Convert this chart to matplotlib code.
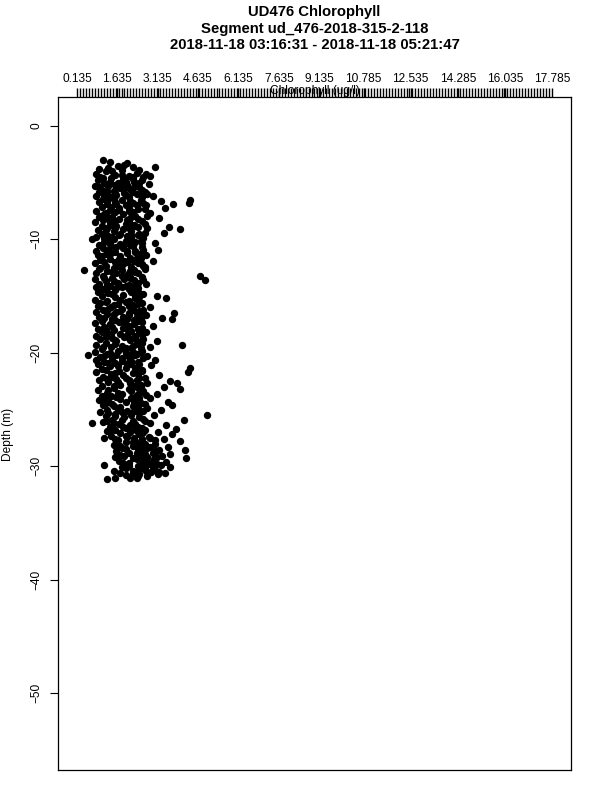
import numpy as np
import matplotlib
matplotlib.use("Agg")
import matplotlib.pyplot as plt

plt.rcParams['font.family'] = ['Liberation Sans', 'DejaVu Sans']

title_lines = ["UD476 Chlorophyll",
               "Segment ud_476-2018-315-2-118",
               "2018-11-18 03:16:31 - 2018-11-18 05:21:47"]
x_label = "Chlorophyll (ug/l)"
y_label = "Depth (m)"
x_tick_labels = ["0.135", "1.635", "3.135", "4.635", "6.135", "7.635", "9.135",
                 "10.785", "12.535", "14.285", "16.035", "17.785"]
y_ticks = [0, -10, -20, -30, -40, -50]
x_range = (0.135, 17.785)
y_view = (-56.79, 2.56)

# (depth m, chlorophyll ug/l)
seg_a = [(3.0,1.10),(3.2,1.35),(3.3,2.00),(3.6,3.05),(3.5,1.65),(3.8,0.95),(3.9,1.80),(4.0,1.20),(4.1,2.35),(4.2,0.85),
         (4.3,1.55),(4.4,2.05),(4.5,1.00),(4.5,2.60),(4.6,1.40),(4.7,1.85),(4.8,0.90),(4.9,2.25),(5.0,1.15),(5.0,1.65),
         (5.1,2.80),(5.2,2.00),(5.3,1.30),(5.3,0.80),(5.4,2.45),(5.5,1.75),(5.6,1.05),(5.6,2.15),(5.7,1.50),(5.8,0.95),
         (5.8,2.65),(5.9,1.90),(6.0,1.25),(6.0,2.35),(6.1,1.60),(6.2,0.85),(6.2,2.95),(6.3,2.05),(6.3,1.40),(6.4,1.10),
         (6.5,1.80),(6.5,2.50),(6.5,4.35),(6.6,3.25),(6.7,0.95),(6.7,1.55),(6.8,2.20),(6.8,4.30),(6.9,1.25),(6.9,3.70),
         (7.0,1.95),(7.0,2.70),(7.1,1.05),(7.2,1.70),(7.2,3.40)]
seg_a2 = [(4.0,1.45),(4.6,1.10),(4.9,1.35),(5.2,1.55),(5.4,0.95),(5.7,1.25),(5.9,1.55),(6.1,1.95),(6.4,1.50),(6.6,1.25),
          (6.9,1.60),(7.1,1.40),(4.3,1.80),(5.5,2.05),(6.2,1.15),(5.1,1.90),(3.7,1.30),(4.7,2.20)]
seg_a3 = [(3.4,1.90),(3.9,2.45),(4.2,2.70),(4.5,2.20),(4.8,2.55),(5.0,2.45),(5.3,2.30),(5.6,2.55),(5.8,2.20),(6.0,2.75),
          (6.3,2.55),(6.6,2.10),(6.8,2.60),(7.0,2.35),(4.4,2.85),(5.4,1.95),(6.1,2.55),(7.2,2.05),(3.6,2.20),(4.9,1.95)]
seg_b = [(7.3,2.40),(7.4,1.35),(7.5,0.85),(7.5,2.05),(7.6,1.55),(7.7,2.85),(7.8,1.15),(7.8,1.85),(7.9,2.30),(8.0,0.95),
         (8.0,1.45),(8.1,3.20),(8.2,2.05),(8.2,1.70),(8.3,1.10),(8.4,2.55),(8.5,0.80),(8.5,1.35),(8.6,1.95),(8.7,2.25),
         (8.8,1.05),(8.8,1.60),(8.9,3.55),(9.0,2.75),(9.0,1.25),(9.1,3.95),(9.1,1.85),(9.2,0.90),(9.3,2.15),(9.3,1.50),
         (9.4,3.35),(9.5,1.05),(9.5,2.45),(9.6,1.70),(9.7,1.30),(9.7,2.00),(9.8,0.85),(9.9,2.60),(10.0,1.50),(10.0,0.70),
         (10.1,1.95),(10.2,1.15),(10.2,2.30),(10.3,3.05),(10.4,1.75),(10.5,0.95),(10.5,2.10),(10.6,1.40),(10.7,2.55),(10.8,1.10),
         (10.8,1.85),(10.9,3.15),(11.0,0.85),(11.0,2.30)]
seg_b2 = [(7.4,1.70),(7.7,1.20),(8.1,1.30),(8.4,1.55),(8.7,1.35),(9.0,1.55),(9.2,1.20),(9.5,1.75),(9.8,1.45),(10.1,1.25),
          (10.4,1.35),(10.7,1.60),(10.9,1.30),(8.3,2.00),(9.6,2.15),(10.3,1.95),(7.9,1.00),(9.9,1.15)]
seg_b3 = [(7.3,2.65),(7.6,2.20),(7.9,2.75),(8.2,2.40),(8.5,2.05),(8.6,2.65),(8.9,2.40),(9.1,2.10),(9.4,2.65),(9.6,2.40),
          (9.9,2.15),(10.1,2.50),(10.3,2.55),(10.6,2.20),(10.9,2.60),(8.0,2.15),(8.8,2.30),(9.8,2.05),(10.6,1.85),(11.0,2.00)]
seg_c = [(11.1,1.55),(11.2,2.00),(11.3,1.20),(11.4,2.70),(11.4,0.90),(11.5,1.75),(11.6,2.35),(11.7,1.35),(11.8,1.00),(11.8,2.05),
         (11.9,2.95),(12.0,1.55),(12.1,0.80),(12.1,2.40),(12.2,1.85),(12.3,1.20),(12.4,2.15),(12.5,1.50),(12.6,0.95),(12.6,2.65),
         (12.7,0.40),(12.7,1.80),(12.8,1.25),(12.9,2.30),(13.0,0.85),(13.0,1.60),(13.1,2.00),(13.2,4.70),(13.2,1.10),(13.3,2.55),
         (13.4,1.45),(13.5,0.80),(13.5,1.90),(13.6,4.90),(13.6,2.25),(13.7,1.20),(13.8,1.65),(13.9,0.95),(13.9,2.70),(14.0,2.05),
         (14.1,1.35),(14.2,0.85),(14.2,1.80),(14.3,2.40),(14.4,1.10),(14.5,1.55),(14.6,2.15),(14.6,0.90),(14.7,1.30),(14.8,2.60),
         (14.9,1.85),(15.0,1.05),(15.0,3.10)]
seg_c2 = [(11.2,1.40),(11.5,1.05),(11.7,1.70),(12.0,1.15),(12.3,1.65),(12.5,1.00),(12.9,1.45),(13.2,1.80),(13.4,1.15),(13.7,1.50),
          (14.0,1.25),(14.3,1.60),(14.5,1.20),(14.8,1.45),(11.9,1.90),(13.0,2.05),(14.1,1.95),(12.8,2.10)]
seg_c3 = [(11.1,2.30),(11.3,2.45),(11.6,2.10),(11.9,2.25),(12.2,2.55),(12.4,2.65),(12.7,2.25),(13.0,2.40),(13.3,2.10),(13.6,2.60),
          (13.8,2.40),(14.1,2.25),(14.4,2.05),(14.7,2.45),(14.9,2.30),(11.6,2.50),(12.3,2.60),(13.4,2.10),(14.5,2.35),(12.0,2.00)]
seg_d = [(15.1,1.55),(15.2,2.30),(15.2,3.45),(15.3,0.80),(15.4,1.25),(15.5,1.95),(15.6,2.55),(15.6,1.00),(15.7,1.65),(15.8,2.20),
         (15.9,0.90),(16.0,1.40),(16.0,2.85),(16.1,1.80),(16.2,1.10),(16.3,2.45),(16.4,0.85),(16.4,1.60),(16.5,3.75),(16.5,2.05),
         (16.6,1.25),(16.7,2.70),(16.8,0.95),(16.8,1.85),(16.9,3.30),(17.0,1.45),(17.0,3.65),(17.1,2.25),(17.2,1.05),(17.3,1.70),
         (17.3,2.55),(17.4,0.80),(17.5,1.35),(17.6,2.05),(17.6,2.95),(17.7,1.15),(17.8,1.85),(17.9,0.90),(17.9,2.40),(18.0,1.50),
         (18.1,2.15),(18.2,1.05),(18.2,2.70),(18.3,1.75),(18.4,1.30),(18.5,0.85),(18.5,2.30),(18.6,1.90),(18.7,1.45),(18.8,2.60),
         (18.8,1.00),(18.9,2.10),(19.0,1.60),(19.0,3.10)]
seg_d2 = [(15.3,1.75),(15.5,1.20),(15.8,1.50),(16.1,1.30),(16.3,1.75),(16.6,1.50),(16.9,1.15),(17.1,1.55),(17.4,1.90),(17.7,1.45),
          (18.0,1.20),(18.3,1.40),(18.6,1.20),(18.9,1.55),(15.9,2.05),(17.0,2.00),(18.4,2.00),(16.2,2.20)]
seg_d3 = [(15.1,2.45),(15.4,2.05),(15.7,2.40),(16.0,2.20),(16.2,2.60),(16.5,2.35),(16.7,2.05),(17.0,2.50),(17.2,2.40),(17.5,2.25),
          (17.8,2.55),(18.1,2.45),(18.4,2.55),(18.7,2.05),(19.0,2.35),(15.5,2.45),(16.8,2.35),(17.9,2.00),(18.7,2.30),(16.4,2.50)]
seg_e = [(19.1,1.20),(19.2,2.40),(19.3,4.05),(19.3,0.85),(19.4,1.80),(19.5,2.85),(19.5,1.40),(19.6,2.15),(19.7,1.05),(19.8,1.65),
         (19.8,2.55),(19.9,0.80),(20.0,1.95),(20.1,1.25),(20.1,2.35),(20.2,0.55),(20.2,1.60),(20.3,2.75),(20.4,1.00),(20.4,2.05),
         (20.5,1.45),(20.6,0.85),(20.6,3.05),(20.7,1.80),(20.8,2.40),(20.8,1.15),(20.9,1.55),(21.0,2.15),(21.0,0.90),(21.1,2.90),
         (21.2,1.35),(21.3,4.35),(21.3,1.95),(21.4,1.05),(21.5,2.55),(21.6,1.70),(21.7,4.25),(21.7,0.85),(21.8,2.20),(21.9,1.40),
         (22.0,3.20),(22.0,1.85),(22.1,1.10),(22.2,2.45),(22.3,1.60),(22.4,0.95),(22.4,2.05),(22.5,3.60),(22.6,1.30),(22.7,2.75),
         (22.7,3.85),(22.8,1.75),(22.9,1.05),(22.9,2.30),(23.0,3.35)]
seg_e2 = [(19.2,1.55),(19.5,1.10),(19.7,1.90),(20.0,1.35),(20.3,1.15),(20.5,1.80),(20.9,1.30),(21.2,1.65),(21.5,1.20),(21.8,1.55),
          (22.1,1.45),(22.3,1.25),(22.6,1.65),(22.9,1.50),(19.9,2.20),(21.1,2.00),(22.5,2.10),(20.7,2.15)]
seg_e3 = [(19.1,2.55),(19.4,2.20),(19.6,1.95),(19.9,2.50),(20.2,2.30),(20.5,2.60),(20.8,2.05),(21.0,2.45),(21.3,2.30),(21.6,2.55),
          (21.9,2.40),(22.2,2.65),(22.4,2.35),(22.7,2.10),(23.0,2.50),(19.6,2.50),(20.3,2.15),(21.5,2.35),(22.2,1.95),(22.8,2.50)]
seg_f = [(23.1,1.50),(23.2,2.05),(23.2,3.95),(23.3,0.90),(23.4,2.60),(23.5,1.25),(23.6,1.80),(23.6,3.10),(23.7,2.35),(23.8,1.05),
         (23.9,1.60),(24.0,2.85),(24.0,2.15),(24.1,1.30),(24.2,0.95),(24.3,1.95),(24.3,3.50),(24.4,2.50),(24.5,1.45),(24.6,1.10),
         (24.6,3.65),(24.7,2.20),(24.8,1.75),(24.9,2.75),(25.0,1.25),(25.0,3.25),(25.1,2.00),(25.2,1.00),(25.3,2.45),(25.4,1.55),
         (25.5,4.97),(25.5,3.00),(25.6,1.20),(25.7,1.90),(25.8,2.60),(25.9,4.10),(25.9,1.45),(26.0,2.20),(26.1,1.10),(26.2,0.70),
         (26.2,2.85),(26.3,1.70),(26.4,3.45),(26.5,1.35),(26.5,2.40),(26.6,1.95),(26.7,3.80),(26.8,1.55),(26.8,2.65),(26.9,1.25),
         (27.0,2.10),(27.0,3.15)]
seg_f2 = [(23.3,1.30),(23.5,1.65),(23.8,1.40),(24.1,1.75),(24.4,1.20),(24.7,1.50),(25.0,1.65),(25.3,1.30),(25.6,1.55),(25.9,1.80),
          (26.2,1.50),(26.5,1.85),(26.8,1.40),(24.0,1.05),(25.1,2.25),(26.0,1.25),(23.9,2.30),(26.7,2.30)]
seg_f3 = [(23.1,2.40),(23.4,2.15),(23.7,2.70),(24.0,2.45),(24.3,2.25),(24.5,2.65),(24.8,2.40),(25.1,2.60),(25.4,2.15),(25.7,2.45),
          (26.0,2.65),(26.3,2.30),(26.6,2.55),(26.9,2.35),(23.6,2.45),(24.6,2.40),(25.5,2.15),(26.4,2.10),(27.0,2.60),(25.2,1.80)]
seg_g = [(27.1,1.75),(27.2,2.45),(27.2,3.65),(27.3,1.40),(27.4,2.00),(27.5,2.85),(27.5,1.15),(27.6,3.35),(27.7,1.65),(27.8,2.30),
         (27.8,3.95),(27.9,1.95),(28.0,2.65),(28.0,3.05),(28.1,1.50),(28.2,2.20),(28.3,3.50),(28.4,1.80),(28.4,2.75),(28.5,2.40),
         (28.6,3.20),(28.6,4.15),(28.7,1.60),(28.8,2.05),(28.8,2.95),(28.9,3.60),(29.0,2.50),(29.1,1.90),(29.1,3.30),(29.2,2.75),
         (29.3,4.20),(29.3,2.20),(29.4,3.00),(29.5,1.70),(29.5,2.55),(29.6,3.45),(29.7,2.05),(29.8,2.85),(29.9,1.15),(29.9,3.25),
         (30.0,2.40),(30.1,1.80),(30.1,3.60),(30.2,2.65),(30.3,3.05),(30.4,2.20),(30.4,1.50),(30.5,2.90),(30.6,3.40),(30.7,2.45),
         (30.8,1.95),(30.9,2.75),(31.0,1.55),(31.0,2.10),(31.1,1.25),(30.6,1.75)]
seg_g2 = [(27.3,1.95),(27.6,1.55),(27.9,2.20),(28.2,1.75),(28.5,1.95),(28.8,2.35),(29.0,1.75),(29.4,2.35),(29.7,1.85),(30.0,2.05),
          (30.3,2.45),(30.6,2.20),(30.9,2.40),(28.3,2.55),(29.2,1.55),(30.2,1.95),(27.5,2.25),(29.8,2.60)]
seg_g3 = [(27.1,2.55),(27.4,2.80),(27.7,3.05),(28.0,2.45),(28.3,2.85),(28.6,2.55),(28.9,2.65),(29.2,3.10),(29.5,2.95),(29.8,3.10),
          (30.1,2.95),(30.4,2.70),(30.7,3.15),(31.0,2.35),(27.6,2.55),(28.7,3.05),(29.6,2.75),(30.5,3.20),(28.1,2.35),(29.3,2.55)]

segments = [seg_a, seg_a2, seg_a3, seg_b, seg_b2, seg_b3, seg_c, seg_c2, seg_c3,
            seg_d, seg_d2, seg_d3, seg_e, seg_e2, seg_e3, seg_f, seg_f2, seg_f3,
            seg_g, seg_g2, seg_g3]
pts = np.array([p for s in segments for p in s])
depth = -pts[:, 0]
chl = pts[:, 1]

fig = plt.figure(figsize=(6, 8), dpi=100)
ax = fig.add_axes([58/600, 30/800, 513/600, 673/800])

ax.plot(chl, depth, 'o', color='black', ms=5.3, mew=0)

def ext(r):
    d = (r[1] - r[0]) * 0.04
    return (r[0] - d, r[1] + d)

ax.set_xlim(*ext(x_range))
ax.set_ylim(*y_view)

for sp in ax.spines.values():
    sp.set_linewidth(0.9)
    sp.set_color('black')

# top axis
ax.xaxis.tick_top()
label_pos = [float(t) for t in x_tick_labels]
ax.set_xticks(label_pos)
ax.set_xticklabels(x_tick_labels, fontsize=8.6)
ax.set_xticks(np.linspace(x_range[0], x_range[1], 161), minor=True)
ax.tick_params(axis='x', which='both', top=True, bottom=False, length=6.5,
               width=1.0, pad=2.5, direction='out')

# left axis
ax.set_yticks(y_ticks)
ax.set_yticklabels([str(v).replace('-', '\u2212') for v in y_ticks], fontsize=8.6,
                   rotation=90, va='center')
ax.tick_params(axis='y', length=6, width=0.8, pad=5)

fig.text(315/600, 1 - 91/800, x_label, ha='center', va='center', fontsize=8.6)
fig.text(8/600, 1 - 434/800, y_label, ha='center', va='center', fontsize=8.6, rotation=90)

for i, line in enumerate(title_lines):
    fig.text(314.5/600, 1 - (12 + 16.5*i)/800, line, ha='center', va='center',
             fontsize=10.7, fontweight='bold')

fig.savefig('out.png', dpi=100)
